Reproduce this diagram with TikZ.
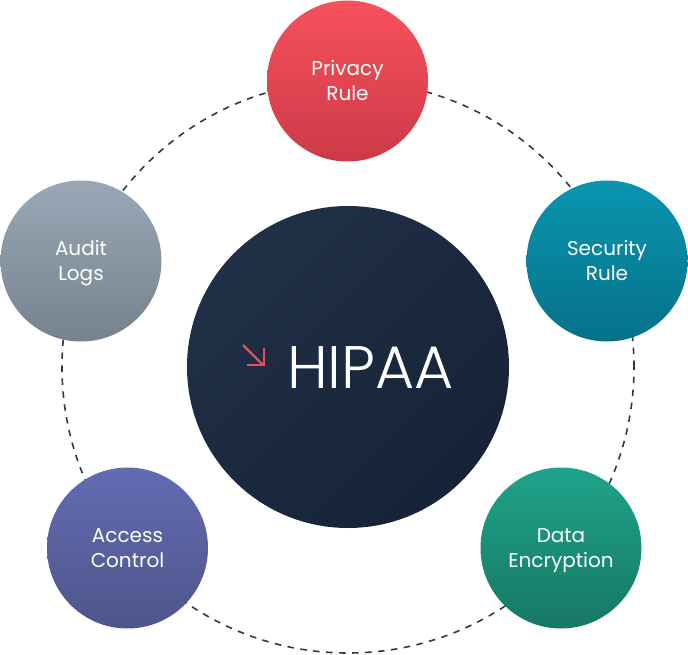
\documentclass[tikz,border=0pt]{standalone}
\usepackage{fontspec}
\setmainfont{Poppins}
\newfontfamily\hipaafont{Poppins Light}
\usetikzlibrary{shadings}
\definecolor{dashc}{HTML}{2C3A4F}
\definecolor{privA}{HTML}{F7515C}
\definecolor{privB}{HTML}{CC3A47}
\definecolor{secA}{HTML}{0A95AF}
\definecolor{secB}{HTML}{067189}
\definecolor{dataA}{HTML}{1FA38A}
\definecolor{dataB}{HTML}{167865}
\definecolor{accA}{HTML}{636BB3}
\definecolor{accB}{HTML}{4D568A}
\definecolor{audA}{HTML}{99A8B7}
\definecolor{audB}{HTML}{76828E}
\definecolor{hubA}{HTML}{203047}
\definecolor{hubB}{HTML}{162337}
\definecolor{arrowred}{HTML}{F04B57}
\tikzset{
  bubble/.style={circle, inner sep=0pt, minimum size=161pt, text=white,
    align=center, font=\fontsize{20}{25}\selectfont, shading angle=45,
    text height=39pt, text depth=0pt},
  hub/.style={circle, inner sep=0pt, minimum size=322pt, top color=hubA, bottom color=hubB, shading angle=45},
  ring/.style={draw=dashc, line width=1.6pt, dash pattern=on 6.5pt off 6.5pt},
  icon/.style={draw=arrowred, line width=2.2pt}
}
\begin{document}
\begin{tikzpicture}[x=1pt,y=-1pt]
\useasboundingbox (0,0) rectangle (688,655);
\coordinate (ctr) at (348,367);
\draw[ring] (ctr) circle[radius=286pt];
\node[hub] (hipaa) at (ctr) {};
\node[bubble, top color=privA, bottom color=privB] (privacy) at (347.5,81) {Privacy\\Rule};
\node[bubble, top color=secA, bottom color=secB] (security) at (607,261) {Security\\Rule};
\node[bubble, top color=dataA, bottom color=dataB] (encryption) at (561,548) {Data\\Encryption};
\node[bubble, top color=accA, bottom color=accB] (access) at (127.5,548) {Access\\Control};
\node[bubble, top color=audA, bottom color=audB] (audit) at (81,261) {Audit\\Logs};
\node[anchor=base west, inner sep=0pt, text=white, font=\hipaafont\fontsize{60}{60}\selectfont] (hipaatext) at (287,388) {HIPAA};
\coordinate (arrA) at (243,345);
\coordinate (arrB) at (263.5,365.5);
\draw[icon, line cap=butt] (arrA) -- (arrB);
\draw[icon, line join=miter] (247,365) -- (264,365) -- (264,348);
\end{tikzpicture}
\end{document}
